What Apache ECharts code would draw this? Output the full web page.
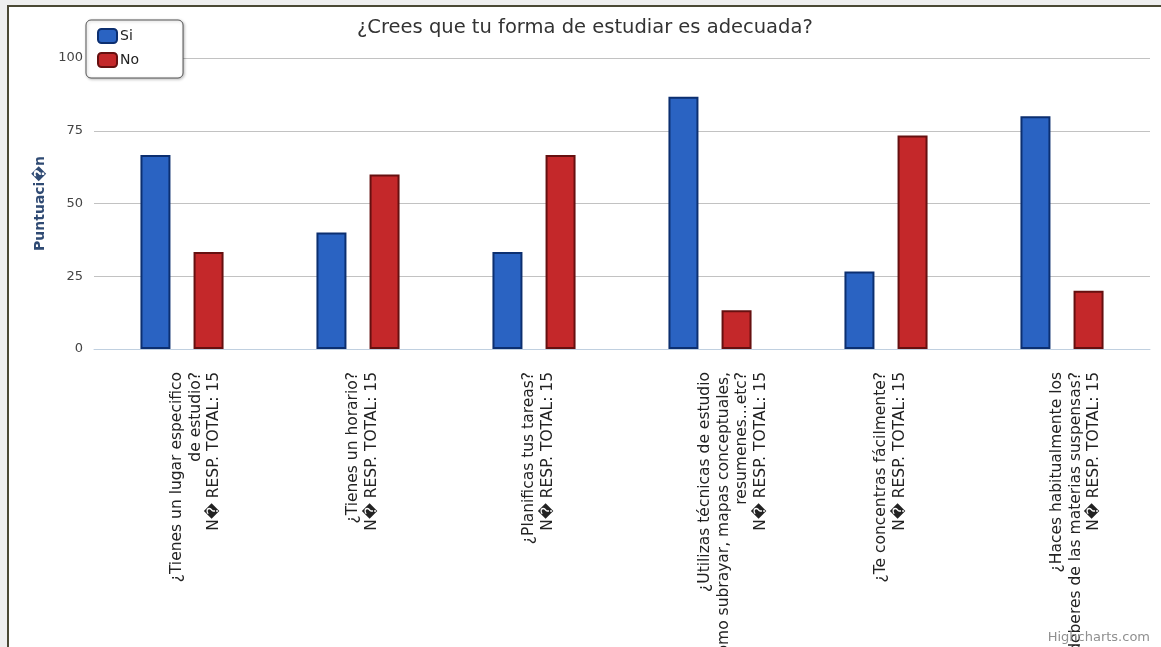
<!DOCTYPE html>
<html>
<head>
<meta charset="utf-8">
<title>¿Crees que tu forma de estudiar es adecuada?</title>
<script src="https://cdn.jsdelivr.net/npm/echarts@6/dist/echarts.min.js"></script>
<style>
    html, body { margin: 0; padding: 0; background: #efefef; }
    #main { width: 1161px; height: 647px; }
</style>
</head>
<body>
<div id="main"></div>
<script>
// preguntas (lineas tal como salen en el eje)
var questions = [
    ['¿Tienes un lugar especifico', 'de estudio?'],
    ['¿Tienes un horario?'],
    ['¿Planificas tus tareas?'],
    ['¿Utilizas técnicas de estudio', 'como subrayar, mapas conceptuales,', 'resumenes...etc?'],
    ['¿Te concentras fácilmente?'],
    ['¿Haces habitualmente los', 'deberes de las materias suspensas?']
];
var respTotals = [15, 15, 15, 15, 15, 15];
var siValues = [66.67, 40, 33.33, 86.67, 26.67, 80];
var noValues = [33.33, 60, 66.67, 13.33, 73.33, 20];
var yTicks = [0, 25, 50, 75, 100];

var categories = questions.map(function (lines, i) {
    return lines.concat(['N\uFFFD RESP. TOTAL: ' + respTotals[i]]).join('\n');
});

var chart = echarts.init(document.getElementById('main'));

var option = {
    animation: false,
    backgroundColor: '#efefef',
    textStyle: { fontFamily: 'DejaVu Sans' },
    title: {
        text: '¿Crees que tu forma de estudiar es adecuada?',
        left: 352,
        top: 13,
        textStyle: { fontSize: 19.5, fontWeight: 'normal', color: '#333' }
    },
    legend: {
        orient: 'vertical',
        left: 86,
        top: 20,
        padding: [8, 44, 10, 11],
        itemWidth: 19,
        itemHeight: 14,
        itemGap: 8,
        icon: 'roundRect',
        backgroundColor: '#fff',
        borderColor: '#555',
        borderWidth: 1,
        borderRadius: 5,
        shadowBlur: 3,
        shadowColor: 'rgba(0,0,0,0.25)',
        shadowOffsetX: 1,
        shadowOffsetY: 1,
        textStyle: { fontSize: 14, color: '#222', padding: [0, 0, 0, -2] },
        data: ['Si', 'No']
    },
    grid: {
        left: 94,
        right: 11,
        top: 58,
        bottom: 298,
        outerBoundsMode: 'none'
    },
    xAxis: {
        type: 'category',
        data: categories,
        axisLine: { lineStyle: { color: '#c0d0e0', width: 1 } },
        axisTick: { length: 5, lineStyle: { color: '#b0c0d4' } },
        axisLabel: {
            interval: 0,
            rotate: 90,
            margin: 23,
            fontSize: 15.5,
            lineHeight: 18.5,
            verticalAlign: 'top',
            padding: [-14, 0, 0, 0],
            color: '#222'
        }
    },
    yAxis: {
        type: 'value',
        min: yTicks[0],
        max: yTicks[yTicks.length - 1],
        interval: 25,
        name: 'Puntuaci\uFFFDn',
        nameLocation: 'middle',
        nameRotate: 90,
        nameGap: 46,
        nameTextStyle: { fontSize: 14, fontWeight: 'bold', color: '#2f4a73' },
        axisLine: { show: false },
        axisTick: { show: false },
        axisLabel: { margin: 11, fontSize: 13, color: '#444' },
        splitLine: { lineStyle: { color: '#c2c2c2', width: 1 } }
    },
    series: [
        {
            name: 'Si',
            type: 'bar',
            data: siValues,
            barWidth: 30,
            barGap: '77%',
            itemStyle: { color: '#2a63c2', borderColor: '#0c2f70', borderWidth: 2 }
        },
        {
            name: 'No',
            type: 'bar',
            data: noValues,
            barWidth: 30,
            barGap: '77%',
            itemStyle: { color: '#c4282a', borderColor: '#661010', borderWidth: 2 }
        }
    ],
    graphic: [
        // marco del recorte
        { type: 'rect', z: -100, shape: { x: 9, y: 7, width: 1160, height: 650 }, style: { fill: '#fff' } },
        { type: 'line', z: 100, shape: { x1: 8, y1: 6, x2: 8, y2: 647 }, style: { stroke: '#4b4935', lineWidth: 2 } },
        { type: 'line', z: 100, shape: { x1: 7, y1: 6, x2: 1161, y2: 6 }, style: { stroke: '#4b4935', lineWidth: 2 } },
        {
            type: 'text', right: 11, bottom: 3, z: 100,
            style: { text: 'Highcharts.com', fill: '#909090', font: '13px "DejaVu Sans"' }
        }
    ]
};

chart.setOption(option);
</script>
</body>
</html>
